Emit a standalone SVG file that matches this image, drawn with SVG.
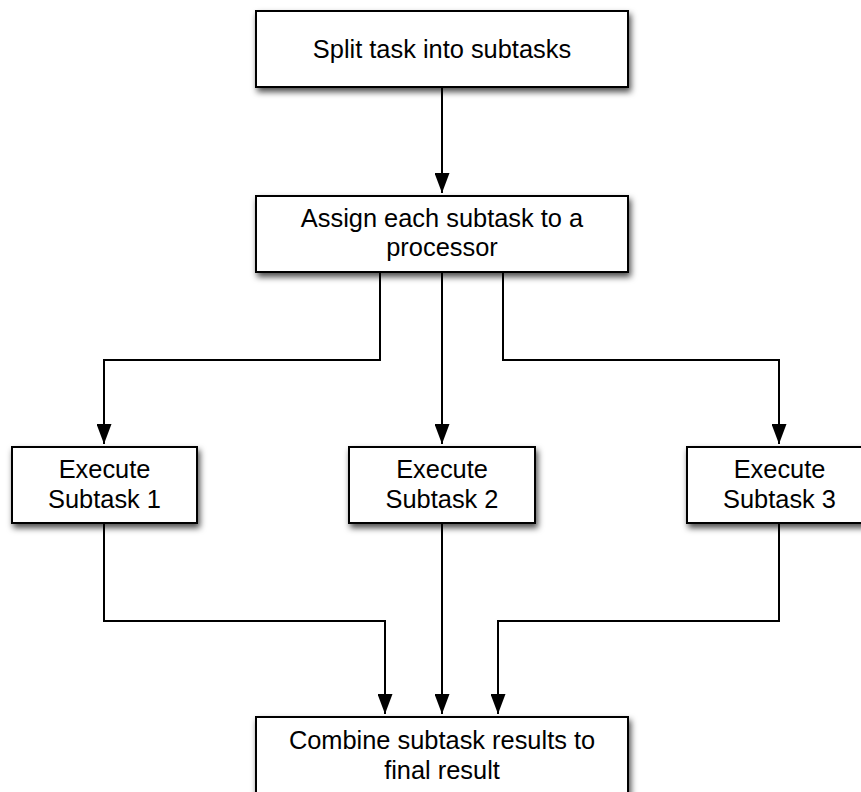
<svg xmlns="http://www.w3.org/2000/svg" width="861" height="792" viewBox="0 0 861 792">
<defs>
<filter id="sh" x="-10%" y="-20%" width="130%" height="150%">
<feDropShadow dx="2" dy="4" stdDeviation="3" flood-color="#000" flood-opacity="0.7"/>
</filter>
<marker id="ah" markerWidth="20" markerHeight="15" refX="20" refY="7.5" orient="auto" markerUnits="userSpaceOnUse" viewBox="0 0 20 15">
<path d="M0,0 L20,7.5 L0,15 Z" fill="#000"/>
</marker>
<style>
.box{fill:#fff;stroke:#000;stroke-width:2;filter:url(#sh)}
.t{font-family:"Liberation Sans",Arial,sans-serif;font-size:25.4px;fill:#000;text-anchor:middle}
.c{fill:none;stroke:#000;stroke-width:2}
</style>
</defs>
<rect width="861" height="792" fill="#fff"/>
<g id="connectors">
<path class="c" d="M442,87 V193" marker-end="url(#ah)"/>
<path class="c" d="M380,272 V360 H104 V444" marker-end="url(#ah)"/>
<path class="c" d="M442,272 V444" marker-end="url(#ah)"/>
<path class="c" d="M503,272 V360 H779 V444" marker-end="url(#ah)"/>
<path class="c" d="M104,523 V621 H385 V714" marker-end="url(#ah)"/>
<path class="c" d="M442,523 V714" marker-end="url(#ah)"/>
<path class="c" d="M779,523 V621 H498 V714" marker-end="url(#ah)"/>
</g>
<g id="split">
<rect class="box" x="256" y="11" width="372" height="76"/>
<text class="t" x="442" y="57.5">Split task into subtasks</text>
</g>
<g id="assign">
<rect class="box" x="256" y="196" width="372" height="76"/>
<text class="t" x="442" y="226.5">Assign each subtask to a</text>
<text class="t" x="442" y="255.5">processor</text>
</g>
<g id="exec1">
<rect class="box" x="12" y="447" width="185" height="76"/>
<text class="t" x="104.5" y="477.5">Execute</text>
<text class="t" x="104.5" y="507.5">Subtask 1</text>
</g>
<g id="exec2">
<rect class="box" x="349" y="447" width="186" height="76"/>
<text class="t" x="442" y="477.5">Execute</text>
<text class="t" x="442" y="507.5">Subtask 2</text>
</g>
<g id="exec3">
<rect class="box" x="687" y="447" width="185" height="76"/>
<text class="t" x="779.5" y="477.5">Execute</text>
<text class="t" x="779.5" y="507.5">Subtask 3</text>
</g>
<g id="combine">
<rect class="box" x="256" y="717" width="372" height="90"/>
<text class="t" x="442" y="748.5">Combine subtask results to</text>
<text class="t" x="442" y="778.5">final result</text>
</g>
</svg>
